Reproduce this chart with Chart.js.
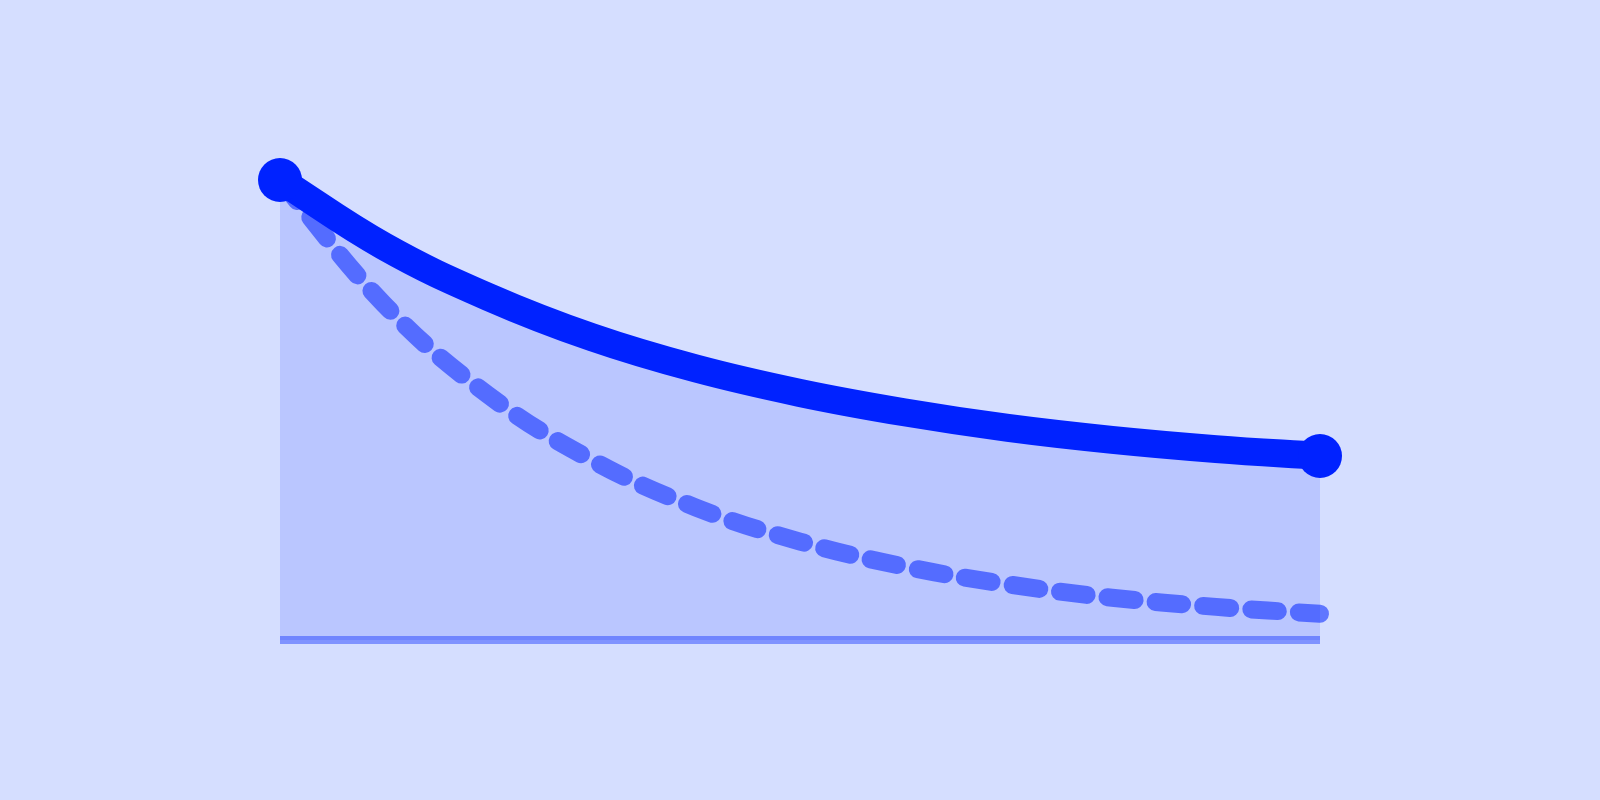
<!DOCTYPE html>
<html>
<head>
<meta charset="utf-8">
<title>Decay curves</title>
<script src="https://cdn.jsdelivr.net/npm/chart.js@4/dist/chart.umd.min.js"></script>
<style>
    html, body { margin: 0; padding: 0; background: #d5deff; }
    #wrap { width: 1600px; height: 800px; position: relative; }
</style>
</head>
<body>
<div id="wrap"><canvas id="curves"></canvas></div>
<script>
// ─── Data ───
const steps = ['0', '1', '2', '3', '4', '5', '6', '7', '8', '9', '10'];
const mainValues = [100, 85.6, 74.6, 65.8, 59.0, 53.7, 49.5, 46.1, 43.5, 41.5, 40.0];
const fastValues = [100, 73.0, 53.3, 39.1, 28.8, 21.4, 16.0, 12.1, 9.2, 7.2, 5.7];

// ─── Colors ───
const C = {
    line:   '#0022ff',
    dashed: 'rgba(0, 34, 255, 0.55)',
    fill:   'rgba(0, 34, 255, 0.125)',
    axis:   'rgba(0, 34, 255, 0.4)',
};

// only first and last point get a dot
const endDot = ctx => (ctx.dataIndex === 0 || ctx.dataIndex === steps.length - 1) ? 22 : 0;

const ctx = document.getElementById('curves').getContext('2d');
new Chart(ctx, {
    type: 'line',
    data: {
        labels: steps,
        datasets: [
            {
                label: 'main',
                data: mainValues,
                borderColor: C.line,
                backgroundColor: C.fill,
                borderWidth: 28,
                borderJoinStyle: 'round',
                pointRadius: endDot,
                pointHoverRadius: endDot,
                pointBorderWidth: 0,
                pointBackgroundColor: C.line,
                fill: 'origin',
                tension: 0.4,
                clip: false
            },
            {
                label: 'fast',
                data: fastValues,
                borderColor: C.dashed,
                borderWidth: 18,
                borderDash: [27, 21],
                borderCapStyle: 'round',
                borderJoinStyle: 'round',
                pointRadius: 0,
                fill: false,
                tension: 0.4,
                clip: false
            }
        ]
    },
    options: {
        responsive: true,
        maintainAspectRatio: false,
        animation: false,
        layout: { padding: { left: 280, right: 280, top: 180, bottom: 160 } },
        scales: {
            x: {
                display: false,
                offset: false
            },
            y: {
                display: true,
                min: 0,
                max: 100,
                ticks: { display: false },
                border: { display: false },
                // baseline = the zero grid line, the rest stay invisible
                grid: {
                    drawTicks: false,
                    lineWidth: 8,
                    color: c => c.tick && c.tick.value === 0 ? C.axis : 'transparent'
                }
            }
        },
        plugins: {
            legend: { display: false },
            tooltip: { enabled: false },
            filler: { drawTime: 'beforeDatasetsDraw' }
        }
    }
});
</script>
</body>
</html>
